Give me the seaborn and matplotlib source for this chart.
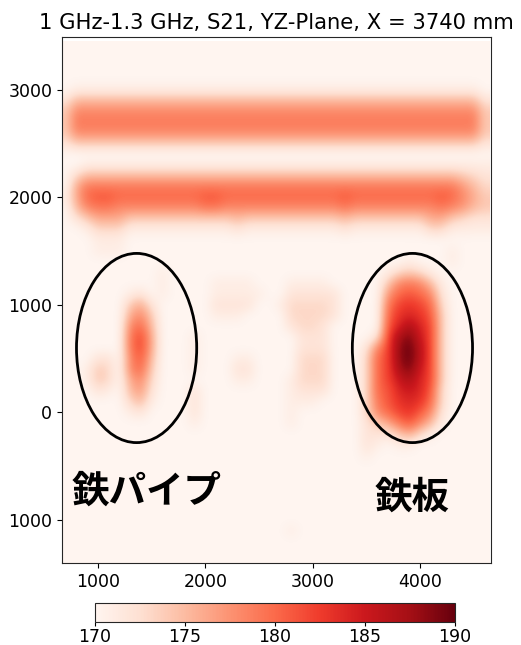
import numpy as np
import matplotlib
matplotlib.use("Agg")
import matplotlib.pyplot as plt
from matplotlib.patches import Ellipse
from matplotlib.ticker import FuncFormatter
import seaborn as sns


TITLE = "1 GHz-1.3 GHz, S21, YZ-Plane, X = 3740 mm"

# cell centres of the measurement grid (mm)
x_cells = list(range(700, 4601, 100))
y_cells = list(range(3400, -1401, -100))

# S21 level per cell, top row first: value = 170 + int(char, 36)
# blocks of 10 columns: 700-1600 | 1700-2600 | 2700-3600 | 3700-4600
s21_rows = [
    "0000000000 0000000000 0000000000 0000000000",  # 3400
    "0000000000 0000000000 0000000000 0000000000",  # 3300
    "0000000000 0000000000 0000000000 0000000000",  # 3200
    "0000000000 0000000000 0000000000 0000000000",  # 3100
    "0111111111 1111111111 1111111111 1111111110",  # 3000
    "2555555555 5555555555 5555555555 5555555552",  # 2900
    "4888888888 8888888888 8888888888 8888888884",  # 2800
    "4999999999 9999999999 9999999999 9999999994",  # 2700
    "4888888888 8888888888 8888888888 8888888884",  # 2600
    "2444444444 4444444444 4444444444 4444444442",  # 2500
    "0000000000 0000000000 0000000000 0000000000",  # 2400
    "0011111111 1111111111 1111111111 1111111111",  # 2300
    "0355555555 5555555555 5555555555 5555555432",  # 2200
    "0699999999 9999999999 9999999999 9999999753",  # 2100
    "16abbaaaaa aaabbaaaaa aaaaaabaaa aaaaaba864",  # 2000
    "0589988888 8889988888 8888889888 8888898754",  # 1900
    "0246664444 4444445444 4444445444 4444664322",  # 1800
    "0013331111 1111112111 1111112111 1111331111",  # 1700
    "0001110000 0000000000 0000000000 0000000000",  # 1600
    "0001110000 0000000000 0000000000 0000001000",  # 1500
    "0000000000 0000000000 0000000000 0010001000",  # 1400
    "0000000001 0000000000 0000000000 1343100000",  # 1300
    "0000000001 0000111100 0111100000 4898510000",  # 1200
    "0000001201 0000111110 0222220000 7aba820000",  # 1100
    "0000004620 0000222200 1333320000 9cdca30000",  # 1000
    "0000006840 0000111000 0333320000 adedb40000",  # 900
    "0000008a50 0000000000 0233200000 behec40000",  # 800
    "0000009c60 0010000000 0022200002 chjfc40000",  # 700
    "0000009c60 0010000000 0022200028 cikgc40000",  # 600
    "0002208b50 0010001100 003330003a cikgc40000",  # 500
    "0014308a40 0010002200 003330003a chjfc40000",  # 400
    "0014306830 0000001100 013330003a cfhec40000",  # 300
    "0002105720 0020000000 012220003a befeb30000",  # 200
    "0000003510 0020000000 0111000039 bdeda30000",  # 100
    "0000001200 0020000000 0100000038 acdb820000",  # 0
    "0000000000 0010000000 0100000024 69b8510000",  # -100
    "0000000000 0000000000 0000000022 2463100000",  # -200
    "0000000000 0000000000 0000000021 0110000000",  # -300
    "0000000000 0000000000 0000000010 0000000000",  # -400
    "0000000000 0000000000 0000000000 0000000000",  # -500
    "0000000000 0000000000 0000000000 0000000000",  # -600
    "0000000000 0000000000 0000000000 0000000000",  # -700
    "0000000000 0000000000 0000000000 0000000000",  # -800
    "0000000000 0000000000 0000000000 0000000000",  # -900
    "0000000000 0000000000 0000000000 0000000000",  # -1000
    "0000000000 0000000000 0100000000 0000000000",  # -1100
    "0000000000 0000000000 0000000000 0000000000",  # -1200
    "0000000000 0000000000 0000000000 0000000000",  # -1300
    "0000000000 0000000000 0000000000 0000000000",  # -1400
]

vmin, vmax = 170, 190
cbar_ticks = [170, 175, 180, 185, 190]
x_ticks = [1000, 2000, 3000, 4000]
y_ticks = [-1000, 0, 1000, 2000, 3000]

# marked objects
ellipse_centers = [(1360, 600), (3930, 600)]
ellipse_size = (1120, 1760)
labels = ["鉄パイプ", "鉄板"]
label_pos = [(1450, -730), (3930, -790)]

s21 = np.array([[vmin + int(c, 36) for c in r.replace(" ", "")] for r in s21_rows], dtype=float)

sns.set_style("ticks")
plt.rcParams['font.family'] = ['DejaVu Sans', 'Noto Sans CJK JP']
plt.rcParams['text.color'] = 'black'
plt.rcParams['xtick.color'] = 'black'
plt.rcParams['ytick.color'] = 'black'

fig = plt.figure(figsize=(5.21, 6.45), dpi=100)
ax = fig.add_axes([62 / 521, 1 - 563 / 645, 429 / 521, 526 / 645])
cax = fig.add_axes([95 / 521, 1 - 622 / 645, 360 / 521, 19 / 645])

cmap = sns.color_palette("Reds", as_cmap=True)
dx = (x_cells[1] - x_cells[0]) / 2
dy = (y_cells[0] - y_cells[1]) / 2
im = ax.imshow(
    s21, cmap=cmap, vmin=vmin, vmax=vmax, origin="upper", aspect="auto",
    interpolation="bicubic",
    extent=[x_cells[0] - dx, x_cells[-1] + dx, y_cells[-1] - dy, y_cells[0] + dy],
)
ax.set_xlim(665, 4662)
ax.set_ylim(-1400, 3493)

for (cx, cy) in ellipse_centers:
    ax.add_patch(Ellipse((cx, cy), ellipse_size[0], ellipse_size[1],
                         fill=False, ec="black", lw=2))
for txt, (tx, ty) in zip(labels, label_pos):
    ax.text(tx, ty, txt, ha="center", va="center", fontsize=27, fontweight="bold",
            family=["Noto Sans CJK JP"], color="black")

ax.set_xticks(x_ticks)
ax.set_yticks(y_ticks)
# the minus sign is not drawn in the original labels
ax.yaxis.set_major_formatter(FuncFormatter(lambda v, p: f"{abs(int(v))}"))
ax.tick_params(labelsize=12.5)
ax.set_title(TITLE, fontsize=15.2, pad=6)

cb = fig.colorbar(im, cax=cax, orientation="horizontal", ticks=cbar_ticks)
cb.ax.tick_params(labelsize=12.5, length=3, pad=1)

fig.savefig("out.png", dpi=100)
